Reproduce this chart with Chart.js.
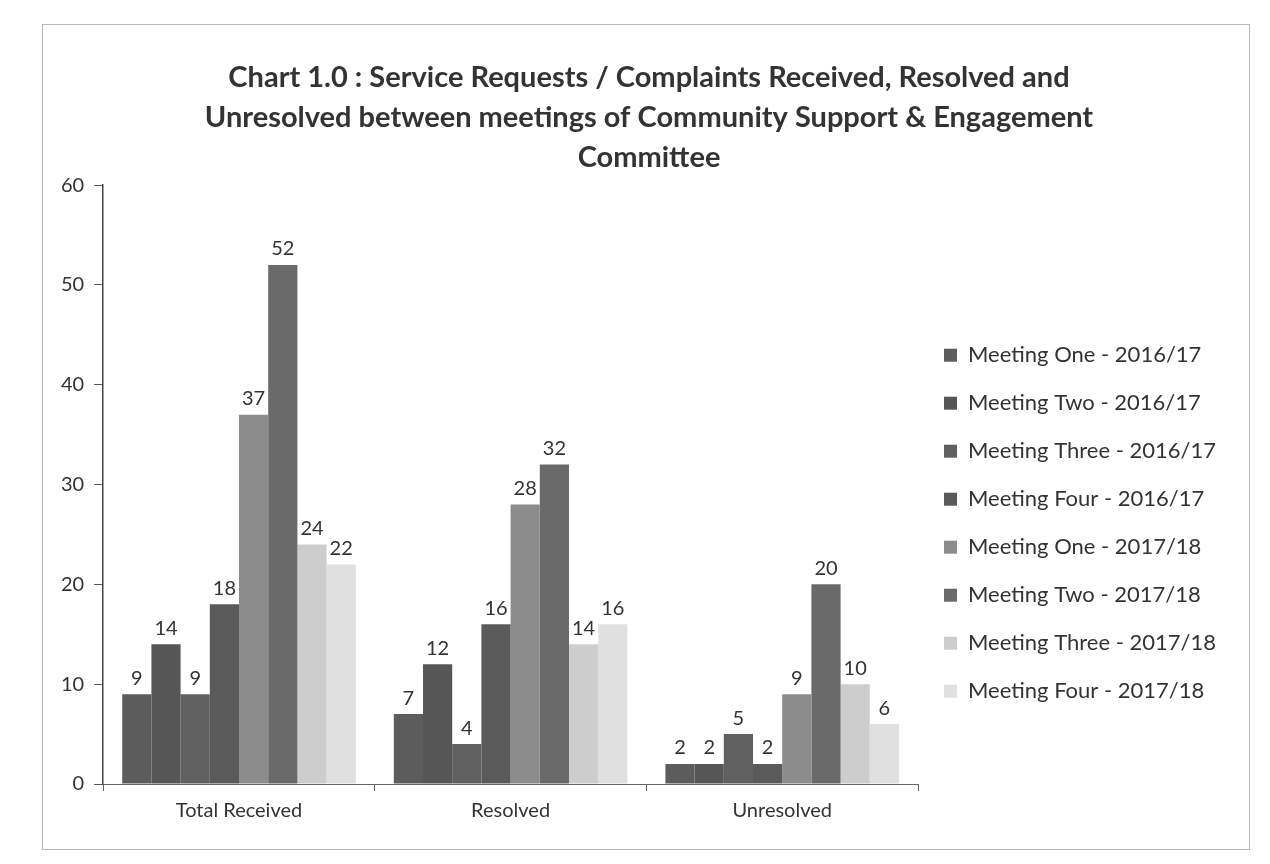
<!DOCTYPE html>
<html>
<head>
<meta charset="utf-8">
<script src="https://cdn.jsdelivr.net/npm/chart.js@4.4.0/dist/chart.umd.min.js"></script>
<style>
    html, body { margin: 0; padding: 0; background: #fff; }
    .frame {
        position: absolute;
        left: 42px; top: 24px;
        width: 1208px; height: 826px;
        border: 1px solid #b8b8b8;
        box-sizing: border-box;
    }
    .frame canvas { display: block; }
</style>
</head>
<body>
<div class="frame"><canvas id="chart" width="1206" height="824"></canvas></div>
<script>
const categories = ['Total Received', 'Resolved', 'Unresolved'];

const seriesNames = [
    'Meeting One - 2016/17',
    'Meeting Two - 2016/17',
    'Meeting Three - 2016/17',
    'Meeting Four - 2016/17',
    'Meeting One - 2017/18',
    'Meeting Two - 2017/18',
    'Meeting Three - 2017/18',
    'Meeting Four - 2017/18'
];

// one array per meeting: Total Received, Resolved, Unresolved
const meetingOne1617   = [9, 7, 2];
const meetingTwo1617   = [14, 12, 2];
const meetingThree1617 = [9, 4, 5];
const meetingFour1617  = [18, 16, 2];
const meetingOne1718   = [37, 28, 9];
const meetingTwo1718   = [52, 32, 20];
const meetingThree1718 = [24, 14, 10];
const meetingFour1718  = [22, 16, 6];

const seriesValues = [
    meetingOne1617, meetingTwo1617, meetingThree1617, meetingFour1617,
    meetingOne1718, meetingTwo1718, meetingThree1718, meetingFour1718
];

const yTicks = [0, 10, 20, 30, 40, 50, 60];

// greyscale as in the scanned original
const seriesColors = [
    '#5c5c5c', '#565656', '#606060', '#5a5a5a',
    '#8c8c8c', '#6a6a6a', '#cdcdcd', '#e0e0e0'
];

const FONT = "Lato, 'Open Sans', sans-serif";
Chart.defaults.font.family = FONT;
Chart.defaults.color = '#333';

// draws the value above each bar
const valueLabels = {
    id: 'valueLabels',
    afterDatasetsDraw(chart) {
        const ctx = chart.ctx;
        ctx.save();
        ctx.font = '20px ' + FONT;
        ctx.fillStyle = '#333';
        ctx.textAlign = 'center';
        ctx.textBaseline = 'bottom';
        chart.data.datasets.forEach((ds, i) => {
            chart.getDatasetMeta(i).data.forEach((bar, j) => {
                ctx.fillText(ds.data[j], bar.x, bar.y - 6);
            });
        });
        ctx.restore();
    }
};

// legend on the right is capped in width by the layout; widen it so the
// long labels are not cut off and leave a gap next to the plot
const legendGap = {
    id: 'legendGap',
    beforeInit(chart) {
        const fit = chart.legend.fit;
        chart.legend.fit = function () {
            fit.call(this);
            this.width += 30;
        };
    }
};

new Chart(document.getElementById('chart'), {
    type: 'bar',
    data: {
        labels: categories,
        datasets: seriesNames.map((name, i) => ({
            label: name,
            data: seriesValues[i],
            backgroundColor: seriesColors[i],
            borderWidth: 0,
            categoryPercentage: 0.86,
            barPercentage: 1.0
        }))
    },
    options: {
        responsive: false,
        animation: false,
        devicePixelRatio: 1,
        layout: { padding: { left: 8, right: 2, top: 22, bottom: 18 } },
        scales: {
            x: {
                grid: {
                    display: true,
                    drawOnChartArea: false,
                    tickLength: 7,
                    color: '#666'
                },
                border: { color: '#666', width: 1 },
                ticks: { font: { size: 20 }, color: '#333', padding: 8 }
            },
            y: {
                min: 0,
                max: 60,
                afterBuildTicks: (axis) => { axis.ticks = yTicks.map(v => ({ value: v })); },
                grid: {
                    display: true,
                    drawOnChartArea: false,
                    tickLength: 9,
                    color: '#555'
                },
                border: { color: '#444', width: 1.5 },
                ticks: { font: { size: 20 }, color: '#333', padding: 10 }
            }
        },
        plugins: {
            title: {
                display: true,
                text: [
                    'Chart 1.0 : Service Requests / Complaints Received, Resolved and',
                    'Unresolved between meetings of Community Support & Engagement',
                    'Committee'
                ],
                font: { size: 29, weight: 'bold', lineHeight: 1.38 },
                color: '#333',
                padding: { top: 11, bottom: 7 }
            },
            legend: {
                position: 'right',
                title: { display: true, text: ' ', padding: { top: 77, bottom: 77 } },
                labels: {
                    boxWidth: 13,
                    boxHeight: 13,
                    padding: 26,
                    font: { size: 22 },
                    color: '#333'
                }
            },
            tooltip: { enabled: false }
        }
    },
    plugins: [valueLabels, legendGap]
});
</script>
</body>
</html>
